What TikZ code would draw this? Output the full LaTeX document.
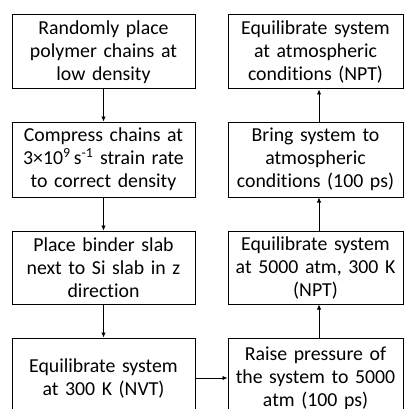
\documentclass[tikz,border=0pt]{standalone}
\usepackage{fontspec}
\setmainfont{Carlito}[Ligatures={NoCommon}]
\usetikzlibrary{arrows.meta}
\begin{document}
\begin{tikzpicture}[x=1pt,y=1pt,
  stepbox/.style={draw,line width=1pt,inner sep=1pt,align=center,
    font=\fontsize{19.8}{23}\selectfont},
  lbox/.style={stepbox,minimum width=183pt,text width=181pt,minimum height=74pt},
  rbox/.style={stepbox,minimum width=175pt,text width=173pt,minimum height=74pt},
  conn/.style={line width=0.8pt,-{Latex[length=5pt,width=4.5pt]}}]
\clip (0,0) rectangle (408,-409);
\node[lbox] (a) at (103.5,-52) {Randomly place\\polymer chains at\\low density};
\node[lbox,minimum height=75pt] (b) at (103.5,-159.5) {Compress chains at\\3×10\textsuperscript{9}\,s\textsuperscript{-1} strain rate\\to correct density};
\node[lbox,minimum height=73pt] (c) at (103.5,-267.5) {Place binder slab\\next to Si slab in z\\direction};
\node[lbox,minimum height=80pt] (d) at (103.5,-378) {Equilibrate system\\at 300 K (NVT)};
\node[rbox,minimum height=80pt] (e) at (315.5,-378) {Raise pressure of\\the system to 5000\\atm (100 ps)};
\node[rbox,minimum height=73pt] (f) at (315.5,-267.5) {Equilibrate system\\at 5000 atm, 300 K\\(NPT)};
\node[rbox,minimum height=75pt] (g) at (315.5,-159.5) {Bring system to\\atmospheric\\conditions (100 ps)};
\node[rbox] (h) at (315.5,-52) {Equilibrate system\\at atmospheric\\conditions (NPT)};
\draw[conn] (a) -- (b);
\draw[conn] (b) -- (c);
\draw[conn] (c) -- (d);
\draw[conn] (d.east) -- (e.west);
\draw[conn] ([xshift=3.5pt]e.north) -- ([xshift=3.5pt]f.south);
\draw[conn] ([xshift=3.5pt]f.north) -- ([xshift=3.5pt]g.south);
\draw[conn] ([xshift=3.5pt]g.north) -- ([xshift=3.5pt]h.south);
\end{tikzpicture}
\end{document}
